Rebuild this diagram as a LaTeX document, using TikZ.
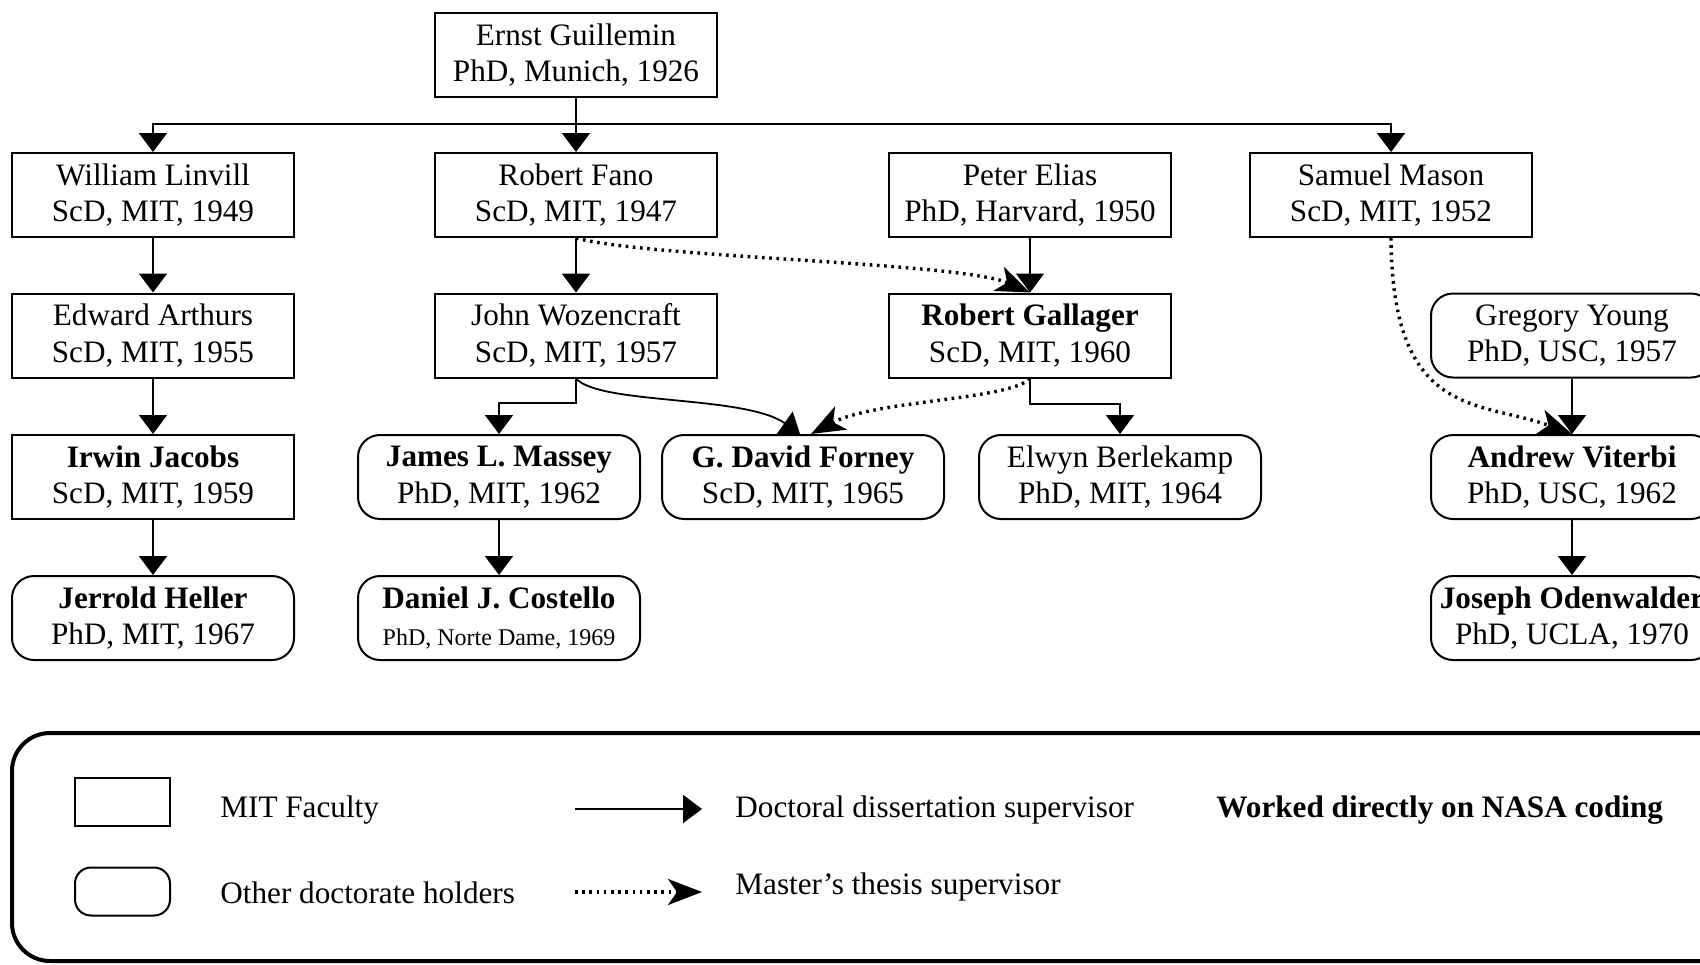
\documentclass[tikz,border=0pt]{standalone}
\usepackage{fontspec}
\setmainfont{Liberation Serif}
\usetikzlibrary{arrows.meta}
\begin{document}
\begin{tikzpicture}[x=0.5pt,y=-0.5pt,
  every node/.style={font=\fontsize{15.6}{18.4}\selectfont, align=center},
  fac/.style={draw, line width=1pt, minimum width=141pt, minimum height=42pt, inner sep=0pt},
  oth/.style={fac, rounded corners=11pt},
  sol/.style={line width=0.9pt, -{Triangle[length=9.5pt,width=14pt]}},
  dot/.style={line width=1.7pt, dash pattern=on 1.3pt off 2.3pt, -{Stealth[length=17pt,width=13pt,inset=4.5pt]}},
  lab/.style={anchor=west, inner sep=0pt}
]
\useasboundingbox (0,0) rectangle (1700,964);
\clip (0,0) rectangle (1700,964);

% nodes
\node[fac] (ernst) at (576,55) {Ernst Guillemin\\PhD, Munich, 1926};
\node[fac] (linvill) at (153,195) {William Linvill\\ScD, MIT, 1949};
\node[fac] (fano) at (576,195) {Robert Fano\\ScD, MIT, 1947};
\node[fac] (elias) at (1030,195) {Peter Elias\\PhD, Harvard, 1950};
\node[fac] (mason) at (1391,195) {Samuel Mason\\ScD, MIT, 1952};
\node[fac] (arthurs) at (153,335.5) {Edward Arthurs\\ScD, MIT, 1955};
\node[fac] (woz) at (576,335.5) {John Wozencraft\\ScD, MIT, 1957};
\node[fac] (gallager) at (1030,335.5) {\bfseries Robert Gallager\\ScD, MIT, 1960};
\node[oth] (young) at (1572,335.5) {Gregory Young\\PhD, USC, 1957};
\node[fac] (jacobs) at (153,477) {\bfseries Irwin Jacobs\\ScD, MIT, 1959};
\node[oth] (massey) at (499,477) {\bfseries James L. Massey\\PhD, MIT, 1962};
\node[oth] (forney) at (803,477) {\bfseries G. David Forney\\ScD, MIT, 1965};
\node[oth] (berlekamp) at (1120,477) {Elwyn Berlekamp\\PhD, MIT, 1964};
\node[oth] (viterbi) at (1572,477) {\bfseries Andrew Viterbi\\PhD, USC, 1962};
\node[oth] (heller) at (153,618) {\bfseries Jerrold Heller\\PhD, MIT, 1967};
\node[oth] (costello) at (499,618) {\bfseries Daniel J. Costello\\{\fontsize{12}{14}\selectfont PhD, Norte Dame, 1969}};
\node[oth] (oden) at (1572,618) {\bfseries Joseph Odenwalder\\PhD, UCLA, 1970};

% bus points
\coordinate (bus0) at (576,124);
\coordinate (wbus) at (576,403);
\coordinate (gbus) at (1030,404);

% doctoral (solid)
\draw[sol] (ernst.south) -- (bus0) -| (linvill.north);
\draw[sol] (bus0) -- (fano.north);
\draw[sol] (bus0) -| (mason.north);
\draw[sol] (linvill) -- (arthurs);
\draw[sol] (arthurs) -- (jacobs);
\draw[sol] (jacobs) -- (heller);
\draw[sol] (fano) -- (woz);
\draw[sol] (elias) -- (gallager);
\draw[sol] (young) -- (viterbi);
\draw[sol] (massey) -- (costello);
\draw[sol] (viterbi) -- (oden);
\draw[sol] (woz.south) -- (wbus) -| (massey.north);
\draw[sol] (gallager.south) -- (gbus) -| (berlekamp.north);
\draw[sol] (woz.south) .. controls (600,405) and (745,395) .. ([xshift=-1.5pt]forney.north);

% master's (dotted)
\draw[dot] (fano.south) .. controls (650,258) and (960,262) .. (gallager.north);
\draw[dot] (mason.south) .. controls (1392,420) and (1480,400) .. (viterbi.north);
\draw[dot] (gallager.south) .. controls (1010,400) and (875,400) .. ([xshift=4pt]forney.north);

% legend
\draw[line width=2pt, rounded corners=19pt] (12,733) rectangle (1760,961);
\node[fac, minimum width=47.5pt, minimum height=24pt] (lfac) at (122.5,802) {};
\node[fac, rounded corners=8pt, minimum width=47.5pt, minimum height=24pt] (loth) at (122.5,891.5) {};
\node[lab] (tfac) at (220,810) {MIT Faculty};
\node[lab] (toth) at (220,893) {Other doctorate holders};
\coordinate (a1s) at (575,809);
\coordinate (a1e) at (702,809);
\draw[sol] (a1s) -- (a1e);
\coordinate (a2s) at (575,892);
\coordinate (a2e) at (702,892);
\draw[dot] (a2s) -- (a2e);
\node[lab] (tdoc) at (735,810) {Doctoral dissertation supervisor};
\node[lab] (tmas) at (735,887) {Master’s thesis supervisor};
\node[lab] (tnasa) at (1216,810) {\bfseries Worked directly on NASA coding};
\end{tikzpicture}
\end{document}
